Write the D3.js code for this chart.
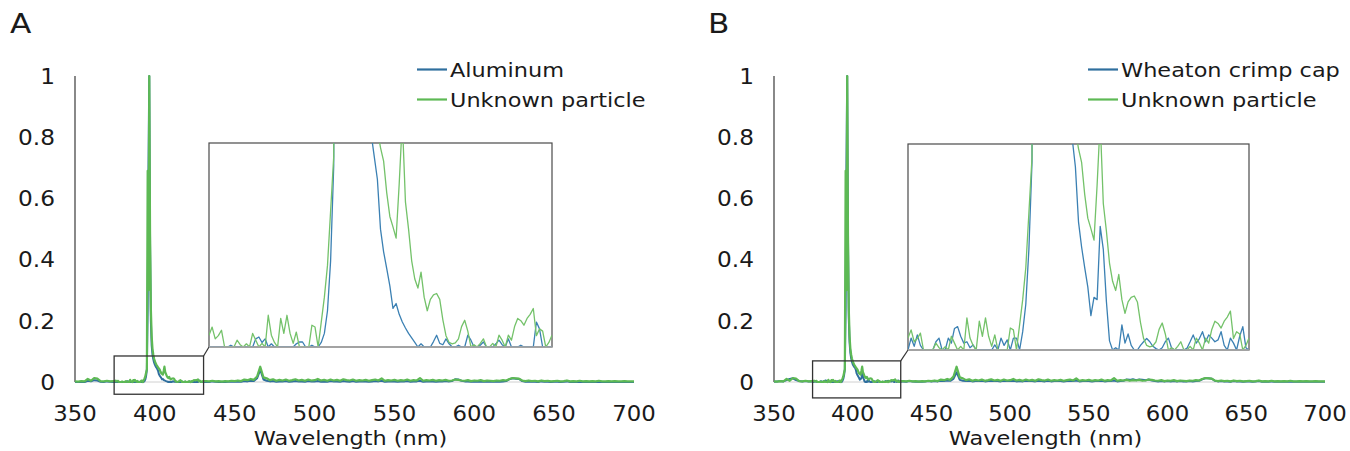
<!DOCTYPE html>
<html><head><meta charset="utf-8">
<script src="https://cdn.jsdelivr.net/npm/d3@7"></script>
<style>
body{margin:0;background:#fff}
svg{display:block}
text{font-family:"DejaVu Sans",sans-serif;fill:#1a1a1a}
</style>
</head><body>
<svg id="chart" width="1350" height="451"></svg>
<script>
// ---------- axis ticks ----------
const xTicks = [350, 400, 450, 500, 550, 600, 650, 700];
const yTicks = [0, 0.2, 0.4, 0.6, 0.8, 1];
const yTickLabels = ["0", "0.2", "0.4", "0.6", "0.8", "1"];
const panelLetters = ["A", "B"];
const seriesNames = [["Aluminum", "Unknown particle"], ["Wheaton crimp cap", "Unknown particle"]];
const xTitle = "Wavelength (nm)";

// ---------- wavelength grids (nm) ----------
const leftWl = d3.range(350, 375, 2);       // 350..374
const insetWl = d3.range(375, 430.25, 0.5); // 375..430 (zoomed region)
const rightWl = d3.range(432, 701, 2);      // 432..700

// ---------- Unknown particle ----------
const unknownLeft = [0.002, 0.001, 0.003, 0.002, 0.010, 0.004, 0.013, 0.011, 0.003, 0.002, 0.004, 0.002, 0.003];
const unknownInset = [
 0.0026, 0.0044, 0.0018, 0.0025, 0.0037, 0.0, 0.0, 0.0, 0.0, 0.0015,
 0.0005, 0.0, 0.0007, 0.0, 0.0030, 0.0015, 0.0, 0.0008, 0.0, 0.0070,
 0.0026, 0.0010, 0.0, 0.0063, 0.0030, 0.0070, 0.0030, 0.0008, 0.0033, 0.0,
 0.0, 0.0, 0.0, 0.0048, 0.0044, 0.0, 0.0055, 0.011, 0.018, 0.030,
 0.042, 0.69, 0.30, 1.0, 0.48, 0.24, 0.15, 0.11, 0.09, 0.077,
 0.068, 0.061, 0.056, 0.052, 0.048, 0.044, 0.041, 0.034, 0.0288, 0.0265,
 0.024, 0.036, 0.050, 0.032, 0.026, 0.019, 0.015, 0.013, 0.0165, 0.011,
 0.008, 0.0105, 0.0115, 0.0118, 0.0105, 0.006, 0.0025, 0.001, 0.0007, 0.0009,
 0.0018, 0.0045, 0.0059, 0.0035, 0.0, 0.0005, 0.0, 0.0008, 0.0018, 0.0,
 0.0, 0.0008, 0.0, 0.0026, 0.0015, 0.0, 0.0026, 0.0015, 0.0045, 0.0063,
 0.0058, 0.0048, 0.0063, 0.0072, 0.0085, 0.0025, 0.0040, 0.0035, 0.0, 0.0010,
 0.0026];
const unknownRight = [
 0.003, 0.002, 0.004, 0.002, 0.003, 0.001, 0.003, 0.002, 0.004, 0.003,
 0.005, 0.003, 0.008, 0.006, 0.010, 0.007, 0.018, 0.050, 0.015, 0.012,
 0.006, 0.009, 0.004, 0.007, 0.005, 0.008, 0.004, 0.006, 0.009, 0.005,
 0.007, 0.004, 0.008, 0.005, 0.006, 0.010, 0.005, 0.007, 0.004, 0.008,
 0.005, 0.007, 0.004, 0.009, 0.006, 0.005, 0.008, 0.004, 0.006, 0.005,
 0.007, 0.004, 0.006, 0.008, 0.005, 0.012, 0.004, 0.006, 0.005, 0.007,
 0.004, 0.006, 0.005, 0.008, 0.004, 0.006, 0.005, 0.013, 0.004, 0.006,
 0.005, 0.007, 0.004, 0.006, 0.005, 0.007, 0.004, 0.005, 0.008, 0.007,
 0.005, 0.004, 0.006, 0.003, 0.005, 0.004, 0.006, 0.003, 0.005, 0.004,
 0.003, 0.005, 0.004, 0.006, 0.005, 0.010, 0.013, 0.012, 0.011, 0.005,
 0.003, 0.005, 0.003, 0.004, 0.002, 0.005, 0.003, 0.004, 0.002, 0.003,
 0.004, 0.002, 0.003, 0.005, 0.002, 0.003, 0.002, 0.004, 0.002, 0.003,
 0.002, 0.003, 0.002, 0.004, 0.002, 0.002, 0.003, 0.002, 0.003, 0.002,
 0.002, 0.003, 0.002, 0.002, 0.002];

// ---------- Aluminum ----------
const aluminumLeft = [0.0, 0.0, 0.001, 0.0, 0.004, 0.002, 0.006, 0.005, 0.001, 0.0, 0.002, 0.001, 0.0];
const aluminumInset = [
 0.0, 0.0, 0.0, 0.0, 0.0, 0.0, 0.0, 0.0004, 0.0, 0.0,
 0.0, 0.0, 0.0, 0.0, 0.0, 0.0018, 0.0022, 0.0010, 0.0018, 0.0,
 0.0007, 0.0, 0.0, 0.0, 0.0, 0.0, 0.0, 0.0, 0.0007, 0.0011,
 0.0011, 0.0, 0.0, 0.0004, 0.0, 0.0, 0.001, 0.003, 0.008, 0.019,
 0.040, 0.235, 0.70, 1.0, 0.45, 0.20, 0.12, 0.09, 0.075, 0.064,
 0.057, 0.051, 0.047, 0.042, 0.037, 0.026, 0.021, 0.0173, 0.0135, 0.0085,
 0.0096, 0.0072, 0.0055, 0.0042, 0.0030, 0.0020, 0.0010, 0.0, 0.0007, 0.0,
 0.0, 0.0, 0.0012, 0.0026, 0.0008, 0.0005, 0.0018, 0.0007, 0.0, 0.0,
 0.0004, 0.0, 0.0, 0.0026, 0.0015, 0.0, 0.0, 0.0004, 0.0011, 0.0,
 0.0, 0.0, 0.0007, 0.0015, 0.0005, 0.0, 0.0018, 0.0, 0.0, 0.0,
 0.0004, 0.0, 0.0, 0.0, 0.0, 0.0055, 0.0040, 0.0, 0.0, 0.0,
 0.0];
const aluminumRight = [
 0.001, 0.0, 0.002, 0.001, 0.0, 0.001, 0.0, 0.001, 0.002, 0.001,
 0.002, 0.001, 0.003, 0.002, 0.004, 0.003, 0.012, 0.040, 0.008, 0.004,
 0.002, 0.003, 0.001, 0.002, 0.002, 0.003, 0.001, 0.002, 0.003, 0.002,
 0.002, 0.001, 0.003, 0.002, 0.002, 0.003, 0.001, 0.002, 0.001, 0.003,
 0.002, 0.002, 0.001, 0.003, 0.002, 0.001, 0.003, 0.001, 0.002, 0.002,
 0.002, 0.001, 0.002, 0.003, 0.002, 0.004, 0.001, 0.002, 0.002, 0.002,
 0.001, 0.002, 0.002, 0.003, 0.001, 0.002, 0.002, 0.004, 0.001, 0.002,
 0.002, 0.002, 0.001, 0.002, 0.002, 0.003, 0.002, 0.003, 0.009, 0.008,
 0.004, 0.002, 0.002, 0.001, 0.002, 0.001, 0.002, 0.001, 0.002, 0.001,
 0.001, 0.002, 0.001, 0.002, 0.003, 0.009, 0.012, 0.011, 0.010, 0.003,
 0.001, 0.002, 0.001, 0.001, 0.0, 0.002, 0.001, 0.001, 0.0, 0.001,
 0.001, 0.0, 0.001, 0.002, 0.0, 0.001, 0.0, 0.001, 0.0, 0.001,
 0.0, 0.001, 0.0, 0.001, 0.0, 0.0, 0.001, 0.0, 0.001, 0.0,
 0.0, 0.001, 0.0, 0.0, 0.0];

// ---------- Wheaton crimp cap ----------
const crimpLeft = [0.001, 0.002, 0.003, 0.002, 0.006, 0.010, 0.012, 0.006, 0.003, 0.002, 0.003, 0.002, 0.002];
const crimpInset = [
 0.0, 0.0026, 0.0008, 0.0033, 0.0010, 0.0, 0.0, 0.0, 0.0, 0.0018,
 0.0026, 0.0, 0.0, 0.0026, 0.0015, 0.0047, 0.0051, 0.0030, 0.0015, 0.0018,
 0.0005, 0.0011, 0.0, 0.0, 0.0, 0.0, 0.0, 0.0, 0.0011, 0.0,
 0.0026, 0.0010, 0.0022, 0.0, 0.0026, 0.0026, 0.0, 0.004, 0.010, 0.022,
 0.041, 0.235, 0.70, 1.0, 0.46, 0.21, 0.13, 0.095, 0.078, 0.066,
 0.058, 0.053, 0.049, 0.046, 0.040, 0.028, 0.0225, 0.018, 0.0138, 0.0075,
 0.0115, 0.0110, 0.027, 0.022, 0.0106, 0.002, 0.0, 0.0005, 0.0, 0.0055,
 0.0015, 0.0035, 0.0010, 0.0, 0.0, 0.0010, 0.0018, 0.0025, 0.0018, 0.0008,
 0.0003, 0.0, 0.0005, 0.0018, 0.0026, 0.0005, 0.0, 0.0, 0.0, 0.0,
 0.0004, 0.0018, 0.0033, 0.0015, 0.0025, 0.0040, 0.0018, 0.0033, 0.0026, 0.0018,
 0.0022, 0.0040, 0.0010, 0.0, 0.0026, 0.0015, 0.0, 0.0030, 0.0051, 0.0005,
 0.0];
const crimpRight = [
 0.002, 0.001, 0.003, 0.002, 0.001, 0.002, 0.001, 0.002, 0.003, 0.002,
 0.003, 0.002, 0.004, 0.003, 0.005, 0.004, 0.010, 0.032, 0.007, 0.004,
 0.003, 0.004, 0.002, 0.003, 0.003, 0.004, 0.002, 0.003, 0.004, 0.003,
 0.003, 0.002, 0.004, 0.003, 0.003, 0.004, 0.002, 0.003, 0.002, 0.004,
 0.003, 0.003, 0.002, 0.004, 0.003, 0.002, 0.004, 0.002, 0.003, 0.003,
 0.003, 0.002, 0.003, 0.004, 0.003, 0.005, 0.002, 0.003, 0.003, 0.003,
 0.002, 0.003, 0.003, 0.004, 0.002, 0.003, 0.003, 0.005, 0.002, 0.003,
 0.004, 0.008, 0.007, 0.009, 0.006, 0.008, 0.007, 0.006, 0.008, 0.005,
 0.003, 0.002, 0.003, 0.002, 0.003, 0.002, 0.003, 0.002, 0.003, 0.002,
 0.002, 0.003, 0.002, 0.003, 0.004, 0.009, 0.012, 0.012, 0.011, 0.004,
 0.002, 0.003, 0.002, 0.002, 0.001, 0.003, 0.002, 0.002, 0.001, 0.002,
 0.002, 0.001, 0.002, 0.003, 0.001, 0.002, 0.001, 0.002, 0.001, 0.002,
 0.001, 0.002, 0.001, 0.002, 0.001, 0.001, 0.002, 0.001, 0.002, 0.001,
 0.001, 0.002, 0.001, 0.001, 0.001];

// ---------- build ----------
const zip = (wl, v) => wl.map((w, i) => ({wl: w, v: v[i]}));
const full = (l, m, r) => zip(leftWl, l).concat(zip(insetWl, m), zip(rightWl, r));
const unknownFull = full(unknownLeft, unknownInset, unknownRight);
const unknownZoom = zip(insetWl, unknownInset);

const BLUE = "#2f6f9e", GREEN = "#5db954";
const BLUE_I = "#3b80b3", GREEN_I = "#74c26a";

const panels = [
  {letter: panelLetters[0], names: seriesNames[0], px: [75, 634], py: [382, 76],
   refFull: full(aluminumLeft, aluminumInset, aluminumRight), refZoom: zip(insetWl, aluminumInset),
   legendX: 417, letterX: 10,
   box: {x: [374.5, 430.5], y: [-0.04, 0.085]},
   inset: {x0: 209, x1: 552, y0: 143, y1: 347}},
  {letter: panelLetters[1], names: seriesNames[1], px: [774, 1325], py: [382, 76],
   refFull: full(crimpLeft, crimpInset, crimpRight), refZoom: zip(insetWl, crimpInset),
   legendX: 1088, letterX: 708,
   box: {x: [374.5, 430.5], y: [-0.052, 0.069]},
   inset: {x0: 908, x1: 1249, y0: 144, y1: 350}}
];

// widen glyphs to mimic the wide geometric face of the original
function widen(sel, k) {
  sel.each(function () {
    const w = this.getComputedTextLength();
    d3.select(this).attr("textLength", w * k).attr("lengthAdjust", "spacingAndGlyphs");
  });
}

const svg = d3.select("#chart");
const defs = svg.append("defs");

panels.forEach((p, pi) => {
  const g = svg.append("g");
  const x = d3.scaleLinear().domain([350, 700]).range(p.px);
  const y = d3.scaleLinear().domain([0, 1]).range(p.py);

  // panel letter
  widen(g.append("text").attr("x", p.letterX).attr("y", 33).style("font-size", "26px").text(p.letter), 1.2);

  // x baseline (light)
  g.append("line").attr("x1", x(350)).attr("x2", x(700)).attr("y1", y(0)).attr("y2", y(0))
    .attr("stroke", "#d0d0d0").attr("stroke-width", 1);
  // y axis line
  g.append("line").attr("x1", x(350)).attr("x2", x(350)).attr("y1", y(0)).attr("y2", y(1))
    .attr("stroke", "#3a3a3a").attr("stroke-width", 1.2);

  // y tick labels
  widen(g.selectAll(".yt").data(yTicks).join("text")
    .attr("x", x(350) - 20).attr("y", d => y(d)).attr("dy", "0.36em")
    .attr("text-anchor", "end").style("font-size", "21.5px")
    .text((d, i) => yTickLabels[i]), 1.08);
  // x tick labels
  widen(g.selectAll(".xt").data(xTicks).join("text")
    .attr("x", d => x(d)).attr("y", 421)
    .attr("text-anchor", "middle").style("font-size", "21.5px")
    .text(d => d), 1.06);
  // axis title
  widen(g.append("text").attr("x", (p.px[0] + p.px[1]) / 2 - 4).attr("y", 445)
    .attr("text-anchor", "middle").style("font-size", "20px").text(xTitle), 1.12);

  // main lines
  const line = d3.line().x(d => x(d.wl)).y(d => y(d.v));
  g.append("path").datum(p.refFull).attr("d", line).attr("fill", "none")
    .attr("stroke", BLUE).attr("stroke-width", 2).attr("stroke-linejoin", "round");
  g.append("path").datum(unknownFull).attr("d", line).attr("fill", "none")
    .attr("stroke", GREEN).attr("stroke-width", 2.2).attr("stroke-linejoin", "round");

  // zoom box on main chart
  const bx0 = x(p.box.x[0]), bx1 = x(p.box.x[1]);
  const by0 = y(p.box.y[1]), by1 = y(p.box.y[0]);
  g.append("rect").attr("x", bx0).attr("y", by0).attr("width", bx1 - bx0).attr("height", by1 - by0)
    .attr("fill", "none").attr("stroke", "#333").attr("stroke-width", 1.3);
  // connector
  g.append("line").attr("x1", bx1).attr("y1", by0).attr("x2", p.inset.x0).attr("y2", p.inset.y1)
    .attr("stroke", "#333").attr("stroke-width", 1.2);

  // inset
  const ix = d3.scaleLinear().domain([375, 430]).range([p.inset.x0, p.inset.x1]);
  const iy = d3.scaleLinear().domain([0, 0.045]).range([p.inset.y1, p.inset.y0]);
  const cid = "clip" + pi;
  defs.append("clipPath").attr("id", cid).append("rect")
    .attr("x", p.inset.x0).attr("y", p.inset.y0)
    .attr("width", p.inset.x1 - p.inset.x0).attr("height", p.inset.y1 - p.inset.y0);
  g.append("rect").attr("x", p.inset.x0).attr("y", p.inset.y0)
    .attr("width", p.inset.x1 - p.inset.x0).attr("height", p.inset.y1 - p.inset.y0)
    .attr("fill", "#fff").attr("stroke", "#4a4a4a").attr("stroke-width", 1.2);
  const iline = d3.line().x(d => ix(d.wl)).y(d => iy(d.v));
  const ig = g.append("g").attr("clip-path", `url(#${cid})`);
  ig.append("path").datum(p.refZoom).attr("d", iline).attr("fill", "none")
    .attr("stroke", BLUE_I).attr("stroke-width", 1.3).attr("stroke-linejoin", "round");
  ig.append("path").datum(unknownZoom).attr("d", iline).attr("fill", "none")
    .attr("stroke", GREEN_I).attr("stroke-width", 1.3).attr("stroke-linejoin", "round");
  g.append("line").attr("x1", p.inset.x0).attr("x2", p.inset.x1).attr("y1", p.inset.y1).attr("y2", p.inset.y1)
    .attr("stroke", "#a8a8a8").attr("stroke-width", 1.5);

  // legend
  const leg = g.append("g");
  [BLUE, GREEN].forEach((c, i) => {
    const ly = 69.5 + i * 30;
    leg.append("line").attr("x1", p.legendX).attr("x2", p.legendX + 30).attr("y1", ly).attr("y2", ly)
      .attr("stroke", c).attr("stroke-width", 2.2);
    widen(leg.append("text").attr("x", p.legendX + 33).attr("y", ly).attr("dy", "0.36em")
      .style("font-size", "20px").text(p.names[i]), 1.12);
  });
});
</script>
</body></html>
